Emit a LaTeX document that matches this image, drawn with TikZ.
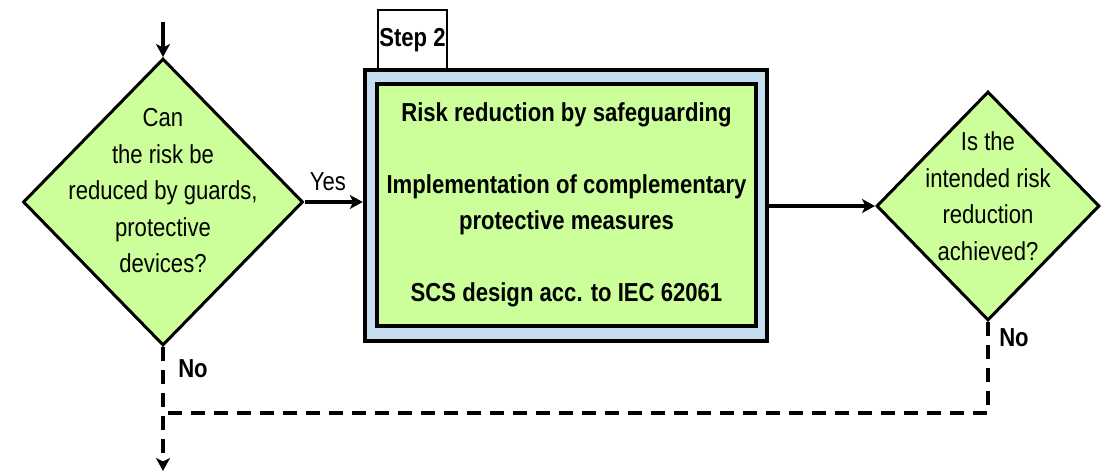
\documentclass[tikz,border=0pt]{standalone}
\usepackage{fontspec}
\newfontfamily\narrowsf[FakeStretch=0.85]{Liberation Sans}
\usetikzlibrary{shapes.geometric,arrows.meta}
\definecolor{decisiongreen}{RGB}{204,255,153}
\definecolor{frameblue}{RGB}{197,221,238}

\begin{document}
\begin{tikzpicture}[x=1pt,y=-1pt,
  txt/.style={font=\narrowsf\fontsize{26}{36.5}\selectfont, align=center, inner sep=0pt},
  boldtxt/.style={txt, font=\narrowsf\bfseries\fontsize{26}{36}\selectfont},
  decision/.style={diamond, draw, line width=3pt, fill=decisiongreen, inner sep=0pt},
  outerframe/.style={rectangle, draw, line width=4.5pt, fill=frameblue, inner sep=0pt},
  innerframe/.style={rectangle, draw, line width=4pt, fill=decisiongreen, inner sep=0pt},
  tab/.style={rectangle, draw, line width=1.2pt, fill=white, inner sep=0pt},
  tip/.style={-{Stealth[length=13pt,width=14pt,inset=3.5pt]}},
  flow/.style={line width=3.5pt, tip},
  dashflow/.style={line width=3.5pt, dash pattern=on 14pt off 9pt},
]
\useasboundingbox (0,0) rectangle (1104,473);

% step tab sits behind the frame
\node[tab, minimum width=69, minimum height=60] (tab) at (412.5,40) {};
\node[boldtxt] (tablabel) at (412.5,40) {Step 2};

% safeguarding block: blue frame with green inner panel
\node[outerframe, minimum width=402, minimum height=271] (box) at (566,205.5) {};
\node[innerframe, minimum width=379, minimum height=242] (inner) at (566.5,205) {};
\node[boldtxt] (boxtext) at (566.5,204.5) {Risk reduction by safeguarding\\[36pt]
  Implementation of complementary\\protective measures\\[36pt]
  SCS design acc. to IEC 62061};

% decisions
\node[decision, minimum width=280, minimum height=287] (d1) at (163,202) {};
\node[txt] (d1text) at (163,191) {Can\\the risk be\\reduced by guards,\\protective\\devices?};

\node[decision, minimum width=223, minimum height=229] (d2) at (988,206) {};
\node[txt] (d2text) at (988,196) {Is the\\intended risk\\reduction\\achieved?};

% connector end points
\coordinate (start) at (163,22);
\coordinate (join) at (163,413);
\coordinate (finish) at (163,471);

% solid flow
\draw[flow] (start) -- (d1.north);
\draw[flow] (d1.east) -- (d1.east -| box.west)
  node[txt, pos=0.4, above=9pt] (yes1) {Yes};
\draw[flow] (box.east |- d2.west) -- (d2.west);

% dashed "No" paths
\draw[dashflow] (d2.south) |- (join);
\draw[dashflow, tip] (d1.south) -- (finish);

\node[boldtxt] (no1) at (193,369) {No};
\node[boldtxt] (no2) at (1014,338) {No};
\end{tikzpicture}
\end{document}
